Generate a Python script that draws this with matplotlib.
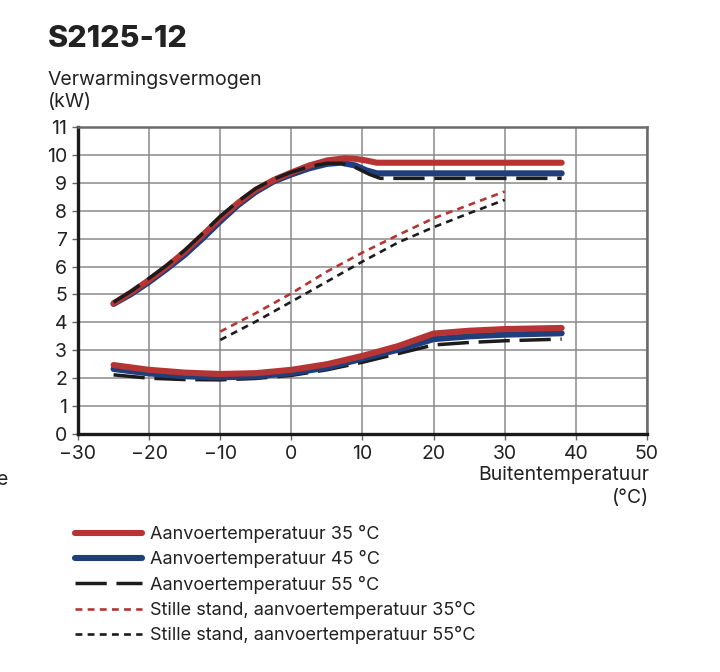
import matplotlib
matplotlib.use("Agg")
from matplotlib import pyplot as plt

plt.rcParams["font.family"] = ["Inter", "DejaVu Sans"]

RED = "#b73434"
BLUE = "#1f3e7c"
BLACK = "#1c1c1c"

# upper curves (max capacity)
x_hi_35 = [-25, -22.5, -20, -17.5, -15, -12.5, -10, -7.5, -5, -2.5, 0, 2.5, 5, 7.5, 9, 10.5, 12, 38]
y_hi_35 = [4.68, 5.08, 5.52, 6.0, 6.53, 7.12, 7.73, 8.28, 8.75, 9.1, 9.37, 9.62, 9.8, 9.88, 9.86, 9.8, 9.72, 9.72]
x_hi_45 = [-25, -22.5, -20, -17.5, -15, -12.5, -10, -7.5, -5, -2.5, 0, 2.5, 5, 7, 9, 10.5, 12, 38]
y_hi_45 = [4.66, 5.02, 5.45, 5.92, 6.42, 7.0, 7.62, 8.2, 8.68, 9.05, 9.3, 9.52, 9.68, 9.72, 9.62, 9.45, 9.34, 9.34]
x_hi_55 = [-25, -22.5, -20, -17.5, -15, -12.5, -10, -7.5, -5, -2.5, 0, 2.5, 5, 7, 9, 11, 12.5, 38]
y_hi_55 = [4.72, 5.12, 5.58, 6.05, 6.58, 7.18, 7.8, 8.33, 8.8, 9.13, 9.38, 9.58, 9.7, 9.7, 9.55, 9.3, 9.16, 9.16]

# lower curves (min capacity)
x_lo = [-25, -20, -15, -10, -5, 0, 5, 10, 15, 20, 25, 30, 38]
y_lo_35 = [2.47, 2.3, 2.2, 2.15, 2.18, 2.3, 2.5, 2.8, 3.15, 3.6, 3.7, 3.76, 3.8]
y_lo_45 = [2.33, 2.17, 2.07, 2.03, 2.07, 2.18, 2.38, 2.7, 3.02, 3.4, 3.5, 3.56, 3.61]
y_lo_55 = [2.12, 2.0, 1.95, 1.94, 1.99, 2.1, 2.3, 2.57, 2.88, 3.19, 3.28, 3.34, 3.4]

# silent mode
x_quiet = [-10, -5, 0, 5, 10, 15, 20, 25, 30]
y_quiet_35 = [3.67, 4.33, 5.04, 5.82, 6.5, 7.13, 7.73, 8.21, 8.69]
y_quiet_55 = [3.37, 4.03, 4.74, 5.46, 6.18, 6.86, 7.41, 7.91, 8.39]

labels = ["Aanvoertemperatuur 35 °C", "Aanvoertemperatuur 45 °C", "Aanvoertemperatuur 55 °C",
          "Stille stand, aanvoertemperatuur 35°C", "Stille stand, aanvoertemperatuur 55°C"]

fig = plt.figure(figsize=(7.2, 6.72), dpi=100)
ax = fig.add_axes([78 / 720, 1 - 434 / 672, (647 - 78) / 720, (434 - 127) / 672])

thick = dict(lw=4.4, solid_capstyle="round", solid_joinstyle="round")
dash = dict(lw=2.5, ls=(0, (9, 2.8)), dash_capstyle="butt")
dot = dict(lw=1.9, ls=(0, (2.6, 2.0)), dash_capstyle="butt")

h45, = ax.plot(x_hi_45, y_hi_45, color=BLUE, **thick)
h35, = ax.plot(x_hi_35, y_hi_35, color=RED, **thick)
h55, = ax.plot(x_hi_55, y_hi_55, color=BLACK, **dash)
ax.plot(x_lo, y_lo_55, color=BLACK, **dash)
ax.plot(x_lo, y_lo_45, color=BLUE, **thick)
ax.plot(x_lo, y_lo_35, color=RED, **thick)
hq35, = ax.plot(x_quiet, y_quiet_35, color=RED, **dot)
hq55, = ax.plot(x_quiet, y_quiet_55, color=BLACK, **dot)

ax.set_xlim(-30, 50)
ax.set_ylim(0, 11)
ax.set_xticks(range(-30, 51, 10))
ax.set_yticks(range(0, 12))
ax.grid(True, color="#8a8a8a", lw=1.1)
ax.set_axisbelow(True)
for s in ["left", "bottom"]:
    ax.spines[s].set_color("#1a1a1a")
    ax.spines[s].set_linewidth(2.4)
for s in ["top", "right"]:
    ax.spines[s].set_color("#6a6a6a")
    ax.spines[s].set_linewidth(1.8)
ax.tick_params(length=4, width=1, color="#666666", labelsize=14, labelcolor="#222222", pad=4)

fig.text(48 / 720, 1 - 47 / 672, "S2125-12", fontsize=22, fontweight="heavy", color="#222222", va="baseline")
fig.text(48 / 720, 1 - 85 / 672, "Verwarmingsvermogen", fontsize=14, color="#222222", va="baseline")
fig.text(48 / 720, 1 - 107 / 672, "(kW)", fontsize=14, color="#222222", va="baseline")
fig.text(649 / 720, 1 - 480 / 672, "Buitentemperatuur", fontsize=14, color="#222222", va="baseline", ha="right")
fig.text(649 / 720, 1 - 503 / 672, "(°C)", fontsize=14, color="#222222", va="baseline", ha="right")
# fragment of a text cut off at the left edge, as in the source image
fig.text(-3 / 720, 1 - 485 / 672, "e", fontsize=14, color="#222222", va="baseline")

fig.legend([h35, h45, h55, hq35, hq55], labels, loc="upper left",
           bbox_to_anchor=(66 / 720, 1 - 516 / 672), frameon=False, fontsize=13,
           handlelength=3.7, handletextpad=0.45, labelspacing=0.4, borderpad=0, labelcolor="#222222")

fig.savefig("out.png", dpi=100)
